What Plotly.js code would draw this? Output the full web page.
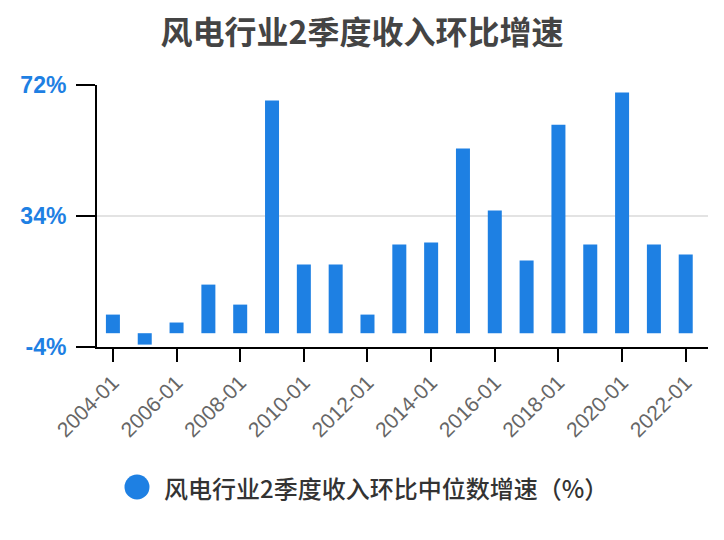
<!DOCTYPE html>
<html>
<head>
<meta charset="utf-8">
<script src="https://cdn.plot.ly/plotly-3.0.1.min.js"></script>
<style>html,body{margin:0;padding:0;background:#fff;}#chart{width:724px;height:540px;}</style>
</head>
<body>
<div id="chart"></div>
<script>
const categories = ["2004-01","2005-01","2006-01","2007-01","2008-01","2009-01","2010-01","2011-01","2012-01","2013-01","2014-01","2015-01","2016-01","2017-01","2018-01","2019-01","2020-01","2021-01","2022-01"];
const growth = [5.4, -3.3, 3.1, 14.1, 8.3, 67.5, 19.9, 19.9, 5.4, 25.7, 26.3, 53.6, 35.6, 21.1, 60.5, 25.7, 69.8, 25.7, 22.8];
const yTicks = [-4, 34, 72];
const yTickText = ["-4%", "34%", "72%"];
const seriesName = "风电行业2季度收入环比中位数增速（%）";
const chartTitle = "风电行业2季度收入环比增速";
const blue = "#1E80E3";

const traces = [
  {type: "bar", x: categories, y: growth, marker: {color: blue}, showlegend: false, name: seriesName}
];

const layout = {
  width: 724, height: 540,
  paper_bgcolor: "#fff", plot_bgcolor: "#fff",
  margin: {l: 97, r: 16, t: 85, b: 193},
  title: {text: chartTitle, x: 0.5, xanchor: "center", y: 0.939, yanchor: "middle",
          font: {family: "Noto Sans CJK SC, sans-serif", size: 32, color: "#444", weight: 700}},
  bargap: 0.56,
  showlegend: false,
  xaxis: {
    type: "category", range: [-0.5, 18.7],
    tickmode: "array", tickvals: categories.filter((c, i) => i % 2 === 0),
    ticks: "outside", ticklen: 13, tickwidth: 2, tickcolor: "#000",
    showline: true, linecolor: "#000", linewidth: 2,
    showgrid: false, tickangle: -45,
    tickfont: {family: "Liberation Sans, Arial, sans-serif", size: 21, color: "#666"}
  },
  yaxis: {
    range: [-4, 72], tickmode: "array", tickvals: yTicks, ticktext: yTickText,
    ticks: "outside", ticklen: 19, tickwidth: 2, tickcolor: "#000",
    ticklabelstandoff: 5,
    showline: true, linecolor: "#000", linewidth: 2,
    showgrid: true, gridcolor: "#e3e3e3", gridwidth: 2, zeroline: false,
    tickfont: {family: "Liberation Sans, Arial, sans-serif", size: 23, color: blue, weight: 700}
  },
  shapes: [{
    type: "circle", xref: "paper", yref: "paper",
    xsizemode: "pixel", ysizemode: "pixel",
    xanchor: (137 - 97) / 611, yanchor: (347 - 487) / 262,
    x0: -12.5, x1: 12.5, y0: -12.5, y1: 12.5,
    fillcolor: blue, line: {width: 0}
  }],
  annotations: [{
    text: seriesName, showarrow: false, xref: "paper", yref: "paper",
    x: (162 - 97) / 611, xanchor: "left", y: (347 - 487) / 262, yanchor: "middle",
    font: {family: "Noto Sans CJK SC, sans-serif", size: 24, color: "#333", weight: 500}
  }]
};

Plotly.newPlot("chart", traces, layout, {displayModeBar: false, staticPlot: true});
</script>
</body>
</html>
